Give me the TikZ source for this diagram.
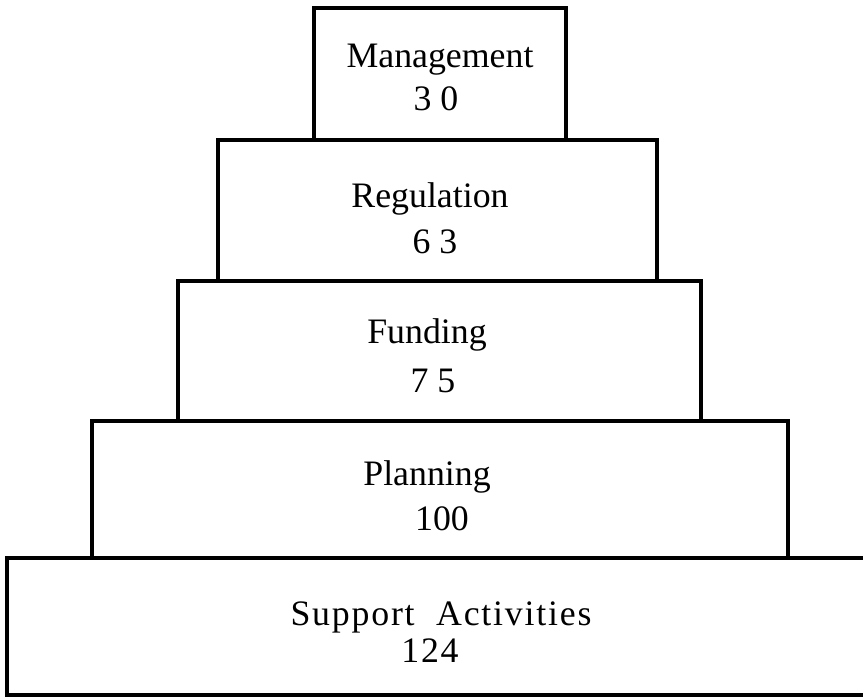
\documentclass[tikz,border=0pt]{standalone}
\usepackage{fontspec}
\setmainfont{Liberation Serif}
\begin{document}
\begin{tikzpicture}[x=0.5pt,y=-0.5pt,line width=2.2pt,
    lbl/.style={anchor=base,inner sep=0pt,font=\fontsize{17.9}{21}\selectfont}]
        \useasboundingbox (0,0) rectangle (863,697);
        \begin{scope}
            \draw (314,8) rectangle (566,140);
            \draw (218,140) rectangle (657,281);
            \draw (178,281) rectangle (701,421);
            \draw (92,421) rectangle (788,558);
            \draw (863,558) -- (7,558) -- (7,695) -- (863,695);

            \node[lbl] (mgmt) at (440,67) {Management};
            \node[lbl] (mgmtval) at (436,110) {3 0};
            \node[lbl] (reg) at (430,207) {Regulation};
            \node[lbl] (regval) at (435,253) {6 3};
            \node[lbl] (fund) at (427,343) {Funding};
            \node[lbl] (fundval) at (433,392) {7 5};
            \node[lbl] (plan) at (427,485) {Planning};
            \node[lbl] (planval) at (442,530) {100};
            \node[lbl] (supp) at (441,625) {\addfontfeature{LetterSpace=5}Support\ \ Activities};
            \node[lbl] (suppval) at (430,662) {\addfontfeature{LetterSpace=5}124};

        \end{scope}
    \end{tikzpicture}
\end{document}
